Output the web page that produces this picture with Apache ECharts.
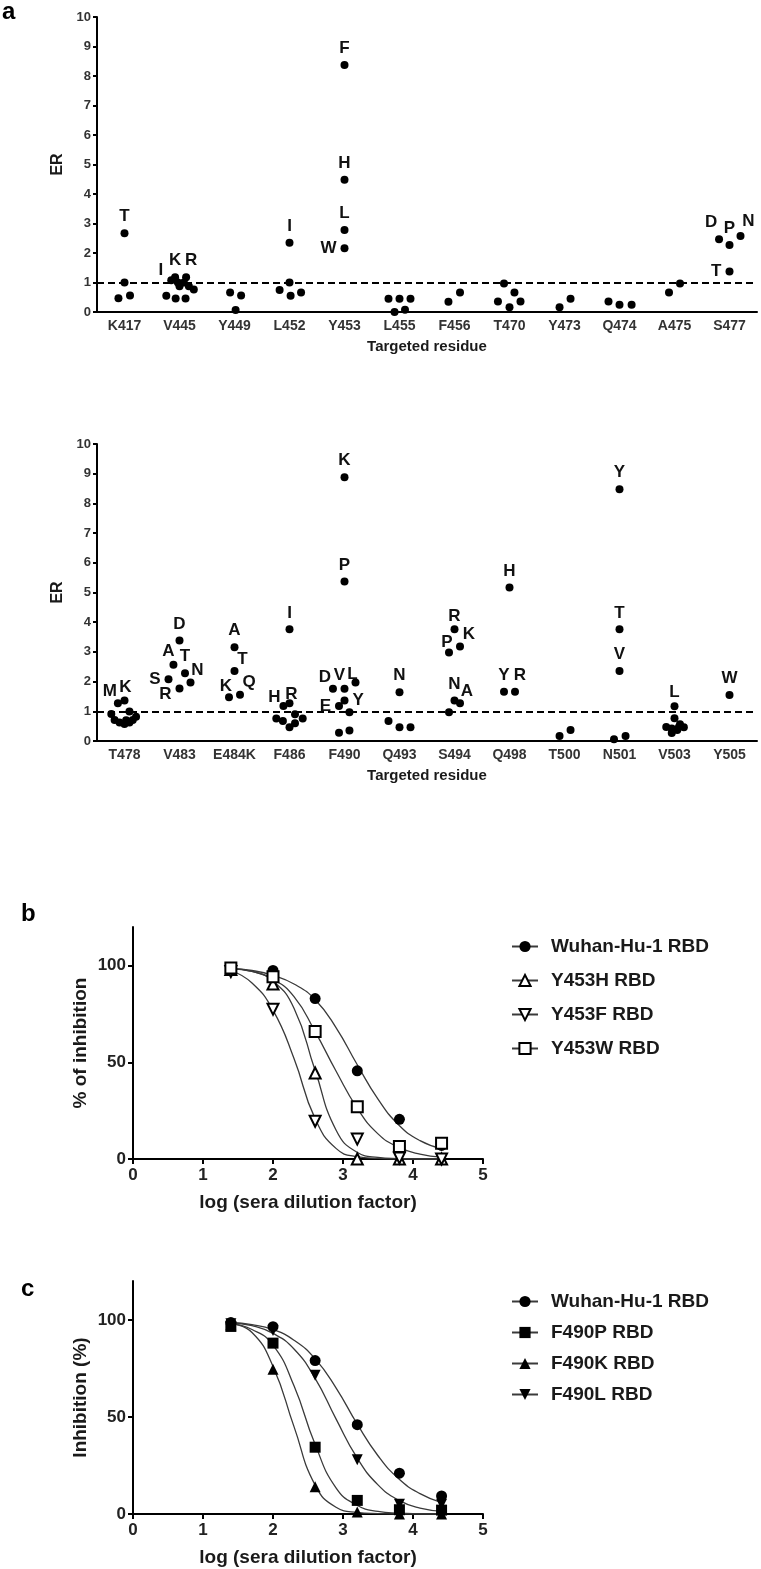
<!DOCTYPE html>
<html><head><meta charset="utf-8">
<script src="https://cdn.jsdelivr.net/npm/echarts@6/dist/echarts.min.js"></script>
<style>html,body{margin:0;padding:0;background:#fff}#c{width:761px;height:1569px}</style>
</head><body><div id="c"></div>
<script>
// ---------- Panel a (top) ----------
const topCats = ['K417','V445','Y449','L452','Y453','L455','F456','T470','Y473','Q474','A475','S477'];
const topER = [
  [2.67,1.0,0.47,0.56],
  [1.08,1.18,1.18,1.0,1.0,0.87,0.87,0.76,0.55,0.46,0.46],
  [0.66,0.56,0.07],
  [2.35,1.0,0.75,0.66,0.55],
  [8.37,4.48,2.78,2.16],
  [0.45,0.45,0.45,0.0,0.08],
  [0.35,0.66],
  [0.97,0.66,0.36,0.36,0.16],
  [0.16,0.45],
  [0.36,0.25,0.25],
  [0.66,0.97],
  [2.47,2.27,2.58,1.37]
];
const topJitter = [
  [0,0,-0.11,0.1],
  [-0.15,-0.08,0.12,-0.03,0.08,0,0.17,0.26,-0.24,-0.07,0.11],
  [-0.08,0.12,0.02],
  [0,0,-0.18,0.21,0.02],
  [0,0,0,0],
  [-0.2,0,0.2,-0.09,0.1],
  [-0.11,0.1],
  [-0.1,0.09,-0.21,0.2,0],
  [-0.09,0.11],
  [-0.2,0,0.22],
  [-0.1,0.1],
  [-0.19,0,0.2,0]
];
const topLetters = [
  ['T'],['I','K','R'],[],['I'],['F','H','L','W'],[],[],[],[],[],[],['D','P','N','T']
];
// ---------- Panel a (bottom) ----------
const botCats = ['T478','V483','E484K','F486','F490','Q493','S494','Q498','T500','N501','V503','Y505'];
const botER = [
  [1.27,1.36,0.91,0.71,0.62,0.57,0.62,0.71,0.82,0.99,0.7],
  [3.38,2.57,2.28,1.97,2.08,1.77],
  [3.16,2.36,1.47,1.56],
  [3.76,1.18,1.27,0.76,0.67,0.46,0.6,0.9,0.76],
  [8.88,5.37,1.76,1.76,1.97,1.18,1.36,0.97,0.28,0.35],
  [1.64,0.67,0.46,0.46],
  [3.76,3.18,2.98,1.36,1.27,0.97],
  [5.17,1.66,1.66],
  [0.17,0.37],
  [8.48,3.76,2.36,0.06,0.17],
  [1.17,0.77,0.47,0.42,0.27,0.37,0.56,0.46,0.47],
  [1.55]
];
const botJitter = [
  [-0.12,0,-0.24,-0.18,-0.09,0,0.09,0.15,0.21,0.09,0.03],
  [0,-0.11,0.1,0.2,-0.2,0],
  [0,0,-0.1,0.1],
  [0,-0.11,0,-0.24,-0.12,0,0.1,0.1,0.24],
  [0,0,-0.21,0,0.2,-0.1,0,0.09,-0.1,0.09],
  [0,-0.2,0,0.2],
  [0,0.1,-0.1,0,0.1,-0.1],
  [0,-0.1,0.1],
  [-0.09,0.11],
  [0,0,0,-0.1,0.11],
  [0,0,-0.15,-0.05,-0.05,0.05,0.1,0.17,0.08],
  [0]
];
const botLetters = [
  ['M','K'],['D','A','T','N','S','R'],['A','T','K','Q'],['I','H','R'],['K','P','D','V','L','E','Y'],
  ['N'],['R','K','P','N','A'],['H','Y','R'],[],['Y','T','V'],['L'],['W']
];
// ---------- Panel b ----------
const dilX = [1.398,2.0,2.602,3.204,3.806,4.408];
const bWuhan = [99,97.5,83,45.6,20.5,7];
const bY453H = [98,90.5,44.5,0,0,0];
const bY453F = [97,77.5,19.5,10.3,0.5,0];
const bY453W = [98.8,94.3,66,27,6.5,8.2];
const fitX = [1.4,1.7,2.0,2.3,2.6,2.9,3.2,3.5,3.8,4.1,4.4];
const bWuhanFit = [98.5,97.5,95,90.5,82.5,68,49,31,17.5,9.5,5.5];
const bY453HFit = [98.5,97,92,78,46,15,3.5,0.8,0.2,0,0];
const bY453FFit = [97.5,91,77,52,21,5.5,1.2,0.3,0,0,0];
const bY453WFit = [98.5,97,93,84,66,45.5,26.5,13,6,2.5,1];
// ---------- Panel c ----------
const cWuhan = [98.6,96.5,79,46,21,9.3];
const cF490P = [96.6,88,34.4,7,2.2,2];
const cF490K = [97.5,74.5,14,1,0,0];
const cF490L = [98,94.5,71.5,28,5,5];
const cWuhanFit = [98.5,97.5,95,89.5,80,65,46.5,30,18,10.5,6];
const cF490PFit = [98,95,87,66,36,13.5,4.5,1.3,0.4,0.1,0];
const cF490KFit = [98,93.5,76,45,15,3.5,0.8,0.2,0,0,0];
const cF490LFit = [98.5,97,93,85,70,49,29,15,7,3,1.5];

// ---------- label placement (style, kept apart from data) ----------
const labelPlace = {
  'V445:I':{pos:'left',off:[0,-10]}, 'V445:R':{pos:'top',off:[5,0]},
  'Y453:W':{pos:'left',off:[0,0]},
  'S477:D':{pos:'top',off:[-8,0]}, 'S477:N':{pos:'top',off:[8,2]}, 'S477:T':{pos:'left',off:[0,0]},
  'T478:M':{pos:'top',off:[-8,5]}, 'T478:K':{pos:'top',off:[1,3]},
  'V483:A':{pos:'top',off:[-5,3]}, 'V483:N':{pos:'top',off:[7,4]}, 'V483:S':{pos:'left',off:[0,0]}, 'V483:R':{pos:'left',off:[0,6]},
  'E484K:T':{pos:'top',off:[8,5]}, 'E484K:K':{pos:'top',off:[-3,5]}, 'E484K:Q':{pos:'top',off:[9,4]},
  'F486:H':{pos:'top',off:[-9,8]}, 'F486:R':{pos:'top',off:[2,8]},
  'F490:D':{pos:'top',off:[-8,5]}, 'F490:V':{pos:'top',off:[-5,3]}, 'F490:L':{pos:'top',off:[-3,8]},
  'F490:E':{pos:'left',off:[0,0]}, 'F490:Y':{pos:'right',off:[0,0]},
  'S494:R':{pos:'top',off:[0,3]}, 'S494:K':{pos:'top',off:[9,4]}, 'S494:P':{pos:'top',off:[-2,6]}, 'S494:A':{pos:'top',off:[7,5]},
  'Q498:R':{pos:'top',off:[5,0]}, 'V503:L':{pos:'top',off:[0,3]}
};

const FF = "'Liberation Sans', Arial, Helvetica, sans-serif";
const TXT = '#1a1a1a';

function buildPoints(cats, ers, jits, letters) {
  const out = [];
  cats.forEach((c, i) => {
    ers[i].forEach((v, k) => {
      const letter = letters[i][k] || '';
      const p = labelPlace[c + ':' + letter] || {};
      out.push({
        value: [i + jits[i][k], v],
        label: letter ? {show: true, formatter: letter, position: p.pos || 'top', offset: p.off || [0, 0]} : {show: false}
      });
    });
  });
  return out;
}
const zip = (xs, ys) => xs.map((x, i) => [x, ys[i]]);

function catAxis(grid, cats) {
  return {
    type: 'category', gridIndex: grid, data: cats, boundaryGap: true,
    name: 'Targeted residue', nameLocation: 'middle', nameGap: 27,
    nameTextStyle: {fontSize: 15, fontWeight: 'bold', fontFamily: FF, color: TXT},
    axisLine: {lineStyle: {color: '#000', width: 2}},
    axisTick: {alignWithLabel: true, length: 4, lineStyle: {width: 2, color: '#000'}},
    axisLabel: {fontSize: 14, fontWeight: 'bold', fontFamily: FF, color: '#333', margin: 7, interval: 0},
    splitLine: {show: false}
  };
}
function hiddenX(grid) {
  return {type: 'value', gridIndex: grid, min: -0.5, max: 11.5, show: false, splitLine: {show: false}};
}
function erAxis(grid) {
  return {
    type: 'value', gridIndex: grid, min: 0, max: 10, interval: 1,
    name: 'ER', nameLocation: 'middle', nameGap: 28, nameRotate: 90,
    nameTextStyle: {fontSize: 16, fontWeight: 'bold', fontFamily: FF, color: TXT},
    axisLine: {show: true, onZero: false, lineStyle: {color: '#000', width: 2}},
    axisTick: {show: true, length: 4, lineStyle: {width: 2, color: '#000'}},
    axisLabel: {fontSize: 13, fontWeight: 'bold', fontFamily: FF, color: '#333', margin: 6},
    splitLine: {show: false}
  };
}
function doseX(grid) {
  return {
    type: 'value', gridIndex: grid, min: 0, max: 5, interval: 1,
    name: 'log (sera dilution factor)', nameLocation: 'middle', nameGap: 34,
    nameTextStyle: {fontSize: 19, fontWeight: 'bold', fontFamily: FF, color: TXT},
    axisLine: {onZero: false, lineStyle: {color: '#000', width: 2}},
    axisTick: {length: 5, lineStyle: {width: 2, color: '#000'}},
    axisLabel: {fontSize: 17, fontWeight: 'bold', fontFamily: FF, color: '#222', margin: 8},
    splitLine: {show: false}
  };
}
function pctY(grid, title) {
  return {
    type: 'value', gridIndex: grid, min: 0, max: 120, interval: 50,
    name: title, nameLocation: 'middle', nameGap: 43, nameRotate: 90,
    nameTextStyle: {fontSize: 19, fontWeight: 'bold', fontFamily: FF, color: TXT},
    axisLine: {show: true, onZero: false, lineStyle: {color: '#000', width: 2}},
    axisTick: {show: true, length: 5, lineStyle: {width: 2, color: '#000'}, customValues: [0, 50, 100]},
    axisLabel: {fontSize: 17, fontWeight: 'bold', fontFamily: FF, color: '#222', margin: 7, customValues: [0, 50, 100]},
    splitLine: {show: false}
  };
}
const dotLabel = {fontSize: 17, fontWeight: 'bold', fontFamily: FF, color: '#111', distance: 4};
const refLine = {
  silent: true, symbol: 'none', label: {show: false},
  lineStyle: {type: [7, 4], color: '#000', width: 2},
  data: [{yAxis: 1}]
};
const curveStyle = {color: '#3a3a3a', width: 1.3};
const openItem = {color: '#fff', borderColor: '#000', borderWidth: 2, opacity: 1};
const fillItem = {color: '#000', opacity: 1};

function curve(name, xi, yi, data, symbol, rotate, item) {
  return {
    type: 'line', name, xAxisIndex: xi, yAxisIndex: yi, data, smooth: 0.5,
    showSymbol: false, symbol, symbolRotate: rotate, symbolSize: 11,
    lineStyle: curveStyle, itemStyle: item, z: 2, silent: true
  };
}
function marks(name, xi, yi, data, symbol, rotate, item) {
  return {
    type: 'scatter', name, xAxisIndex: xi, yAxisIndex: yi, data, symbol, symbolRotate: rotate,
    symbolSize: 11, itemStyle: item, z: 3
  };
}

const legendBase = {
  orient: 'vertical', left: 506, itemWidth: 26, itemHeight: 14, selectedMode: false,
  textStyle: {fontSize: 19, fontWeight: 'bold', fontFamily: FF, color: TXT, padding: [0, 0, 0, 8]}
};

const chart = echarts.init(document.getElementById('c'), null, {renderer: 'canvas'});
chart.setOption({
  animation: false,
  backgroundColor: '#fff',
  title: [
    {text: 'a', left: 2, top: 0, padding: 0, textStyle: {fontSize: 24, fontWeight: 'bold', fontFamily: FF, color: '#000'}},
    {text: 'b', left: 21, top: 902, padding: 0, textStyle: {fontSize: 24, fontWeight: 'bold', fontFamily: FF, color: '#000'}},
    {text: 'c', left: 21, top: 1277, padding: 0, textStyle: {fontSize: 24, fontWeight: 'bold', fontFamily: FF, color: '#000'}}
  ],
  grid: [
    {left: 97, top: 17, width: 660, height: 295},
    {left: 97, top: 444, width: 660, height: 297},
    {left: 133, top: 927, width: 350, height: 232},
    {left: 133, top: 1281, width: 350, height: 233}
  ],
  xAxis: [catAxis(0, topCats), hiddenX(0), catAxis(1, botCats), hiddenX(1), doseX(2), doseX(3)],
  yAxis: [erAxis(0), erAxis(1), pctY(2, '% of inhibition'), pctY(3, 'Inhibition (%)')],
  legend: [
    Object.assign({}, legendBase, {top: 932, itemGap: 15, data: ['Wuhan-Hu-1 RBD', 'Y453H RBD', 'Y453F RBD', 'Y453W RBD']}),
    Object.assign({}, legendBase, {top: 1287, itemGap: 12, data: ['Wuhan-Hu-1 RBD', 'F490P RBD', 'F490K RBD', 'F490L RBD']})
  ],
  series: [
    {type: 'scatter', xAxisIndex: 1, yAxisIndex: 0, symbolSize: 8, itemStyle: fillItem, label: dotLabel,
     data: buildPoints(topCats, topER, topJitter, topLetters), markLine: refLine, z: 3},
    {type: 'scatter', xAxisIndex: 3, yAxisIndex: 1, symbolSize: 8, itemStyle: fillItem, label: dotLabel,
     data: buildPoints(botCats, botER, botJitter, botLetters), markLine: refLine, z: 3},

    curve('Wuhan-Hu-1 RBD', 4, 2, zip(fitX, bWuhanFit), 'circle', 0, fillItem),
    curve('Y453H RBD', 4, 2, zip(fitX, bY453HFit), 'triangle', 0, openItem),
    curve('Y453F RBD', 4, 2, zip(fitX, bY453FFit), 'triangle', 180, openItem),
    curve('Y453W RBD', 4, 2, zip(fitX, bY453WFit), 'rect', 0, openItem),
    marks('Wuhan-Hu-1 RBD', 4, 2, zip(dilX, bWuhan), 'circle', 0, fillItem),
    marks('Y453H RBD', 4, 2, zip(dilX, bY453H), 'triangle', 0, openItem),
    marks('Y453F RBD', 4, 2, zip(dilX, bY453F), 'triangle', 180, openItem),
    marks('Y453W RBD', 4, 2, zip(dilX, bY453W), 'rect', 0, openItem),

    curve('Wuhan-Hu-1 RBD', 5, 3, zip(fitX, cWuhanFit), 'circle', 0, fillItem),
    curve('F490P RBD', 5, 3, zip(fitX, cF490PFit), 'rect', 0, fillItem),
    curve('F490K RBD', 5, 3, zip(fitX, cF490KFit), 'triangle', 0, fillItem),
    curve('F490L RBD', 5, 3, zip(fitX, cF490LFit), 'triangle', 180, fillItem),
    marks('Wuhan-Hu-1 RBD', 5, 3, zip(dilX, cWuhan), 'circle', 0, fillItem),
    marks('F490P RBD', 5, 3, zip(dilX, cF490P), 'rect', 0, fillItem),
    marks('F490K RBD', 5, 3, zip(dilX, cF490K), 'triangle', 0, fillItem),
    marks('F490L RBD', 5, 3, zip(dilX, cF490L), 'triangle', 180, fillItem)
  ]
});
</script></body></html>
